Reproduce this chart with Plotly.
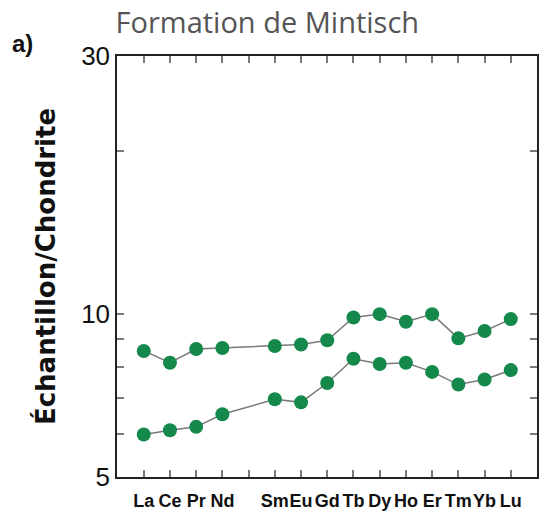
import plotly.graph_objects as go

# Rare-earth elements in atomic order (Pm has no measurement)
elements = ["La", "Ce", "Pr", "Nd", "Pm", "Sm", "Eu", "Gd", "Tb", "Dy", "Ho", "Er", "Tm", "Yb", "Lu"]
element_labels = ["La", "Ce", "Pr", "Nd", "", "Sm", "Eu", "Gd", "Tb", "Dy", "Ho", "Er", "Tm", "Yb", "Lu"]

# Chondrite-normalised abundances for the two samples
sample_high = [8.55, 8.13, 8.62, 8.66, None, 8.73, 8.79, 8.95, 9.86, 10.0, 9.68, 10.0, 9.02, 9.31, 9.79]
sample_low = [5.99, 6.10, 6.19, 6.53, None, 6.96, 6.87, 7.46, 8.27, 8.09, 8.13, 7.82, 7.41, 7.57, 7.88]

y_tickvals = [5, 6, 7, 8, 9, 10, 20, 30]
y_ticktext = ["5", "", "", "", "", "10", "", "30"]

x_pos = list(range(len(elements)))

marker_green = "#15894c"
line_grey = "#7a7a7a"

fig = go.Figure()
for name, vals in [("high", sample_high), ("low", sample_low)]:
    fig.add_trace(go.Scatter(
        x=x_pos, y=vals, mode="lines+markers", name=name,
        connectgaps=True,
        line=dict(color=line_grey, width=1.5),
        marker=dict(color=marker_green, size=14, line=dict(width=0)),
        showlegend=False, hoverinfo="skip",
    ))

fig.update_layout(
    width=540, height=514,
    margin=dict(l=117, r=1, t=56, b=37),
    paper_bgcolor="white", plot_bgcolor="white",
    title=dict(
        text="Formation de Mintisch",
        font=dict(family="Open Sans, Liberation Sans", size=29, color="#555555"),
        x=0.495, xanchor="center", y=0.955, yanchor="middle",
    ),
    annotations=[
        dict(text="<b>a)</b>", xref="paper", yref="paper",
             x=-0.226, y=1.03, xanchor="center", yanchor="middle",
             showarrow=False,
             font=dict(family="Liberation Sans, Arial", size=24, color="#111111")),
    ],
)

fig.update_xaxes(
    range=[-1.02, 15.0],
    tickmode="array", tickvals=x_pos, ticktext=element_labels,
    tickangle=0,
    ticks="inside", ticklen=7, tickwidth=1.5, tickcolor=line_grey,
    mirror="allticks", showline=True, linecolor="#222222", linewidth=1.5,
    showgrid=False, zeroline=False,
    tickfont=dict(family="Liberation Sans Narrow, Liberation Sans, Arial", size=18, color="#111111", weight="bold"),
    ticklabelstandoff=7,
)

fig.update_yaxes(
    type="log",
    range=[0.69897, 1.47712],
    tickmode="array", tickvals=y_tickvals, ticktext=y_ticktext,
    ticks="inside", ticklen=7, tickwidth=1.5, tickcolor=line_grey,
    mirror="allticks", showline=True, linecolor="#222222", linewidth=1.5,
    showgrid=False, zeroline=False,
    tickfont=dict(family="Liberation Sans Narrow, Liberation Sans, Arial", size=26, color="#111111"),
    title=dict(text="Échantillon/Chondrite",
               font=dict(family="DejaVu Sans", size=26, color="#111111", weight="bold"),
               standoff=18),
)

fig.write_html("out.html")
